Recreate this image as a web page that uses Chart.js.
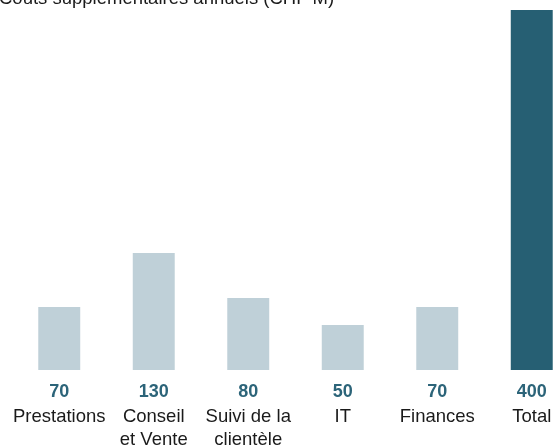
<!DOCTYPE html>
<html>
<head>
<meta charset="utf-8">
<script src="https://cdn.jsdelivr.net/npm/chart.js@4/dist/chart.umd.min.js"></script>
<style>
  html, body { margin: 0; padding: 0; background: #fff; overflow: hidden; }
  #wrap { position: relative; width: 580px; height: 446px; }
</style>
</head>
<body>
<div id="wrap"><canvas id="chart"></canvas></div>
<script>
const titleText = 'Coûts supplémentaires annuels (CHF M)';
const categories = [['Prestations'], ['Conseil', 'et Vente'], ['Suivi de la', 'clientèle'], ['IT'], ['Finances'], ['Total']];
const values = [70, 130, 80, 50, 70, 400];
const barColors = ['#bfd0d8', '#bfd0d8', '#bfd0d8', '#bfd0d8', '#bfd0d8', '#265f73'];

const FONT = '"Liberation Sans", Arial, sans-serif';

// value + category labels under the bars, title clipped at top
const labelsPlugin = {
  id: 'labelsPlugin',
  afterDraw(chart) {
    const ctx = chart.ctx;
    const x = chart.scales.x;
    const bottom = chart.chartArea.bottom;
    ctx.save();
    ctx.textAlign = 'center';
    ctx.textBaseline = 'middle';
    values.forEach((v, i) => {
      const px = x.getPixelForValue(i);
      ctx.fillStyle = '#2c6479';
      ctx.font = 'bold 18px ' + FONT;
      ctx.fillText(String(v), px, bottom + 22);
      ctx.fillStyle = '#1a1a1a';
      ctx.font = '18.5px ' + FONT;
      categories[i].forEach((line, j) => {
        ctx.fillText(line, px, bottom + 47 + j * 23);
      });
    });
    ctx.textAlign = 'left';
    ctx.textBaseline = 'alphabetic';
    ctx.fillStyle = '#1a1a1a';
    ctx.font = '18.5px ' + FONT;
    ctx.fillText(titleText, -1, 4);
    ctx.restore();
  }
};

new Chart(document.getElementById('chart'), {
  type: 'bar',
  data: {
    labels: categories.map(c => c.join(' ')),
    datasets: [{
      data: values,
      backgroundColor: barColors,
      borderWidth: 0,
      barPercentage: 0.444,
      categoryPercentage: 1
    }]
  },
  options: {
    responsive: true,
    maintainAspectRatio: false,
    animation: false,
    layout: { padding: { left: 12, right: 1, top: 10, bottom: 76 } },
    scales: {
      x: { display: false },
      y: { display: false, min: 0, max: 400 }
    },
    plugins: {
      legend: { display: false },
      tooltip: { enabled: false }
    }
  },
  plugins: [labelsPlugin]
});
</script>
</body>
</html>
